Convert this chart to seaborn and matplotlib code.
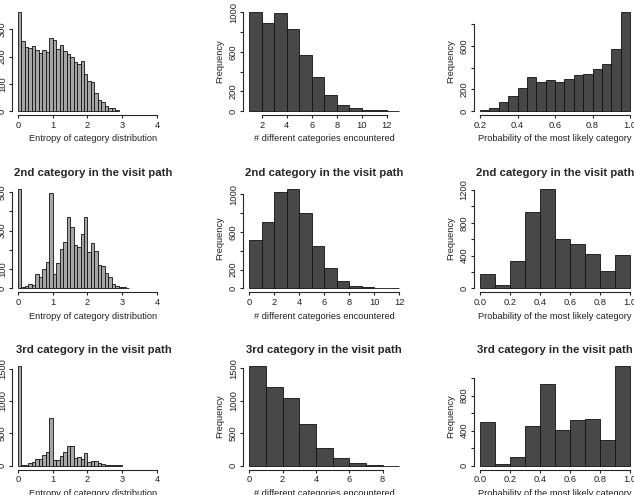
import numpy as np
import pandas as pd
import matplotlib
matplotlib.use("Agg")
import matplotlib.pyplot as plt
import seaborn as sns

# Bin counts, one list per panel (row = position in the visit path)
entropy_counts_1 = [365, 258, 236, 233, 240, 224, 212, 223, 217, 267, 260, 227, 242, 220, 209,
                    200, 181, 172, 182, 136, 110, 108, 66, 40, 33, 18, 12, 10, 4]
entropy_counts_2 = [517, 9, 10, 23, 19, 73, 61, 101, 135, 494, 73, 134, 203, 239, 371, 321,
                    224, 213, 283, 373, 187, 234, 194, 121, 118, 78, 57, 21, 14, 9, 5, 2]
entropy_counts_3 = [1536, 10, 15, 36, 51, 98, 98, 159, 216, 740, 92, 87, 154, 211, 298, 303,
                    113, 134, 103, 190, 62, 72, 67, 36, 26, 10, 10, 5, 5, 5]

ncat_counts_1 = [1007, 889, 993, 831, 568, 345, 162, 64, 34, 10, 7, 3]
ncat_counts_2 = [510, 705, 1025, 1055, 800, 445, 220, 75, 28, 18, 5, 3]
ncat_counts_3 = [1531, 1207, 1048, 647, 272, 118, 46, 10, 2]

maxprob_counts_1 = [9, 25, 80, 138, 212, 317, 268, 283, 268, 298, 329, 345, 391, 437, 569, 917]
maxprob_counts_2 = [171, 37, 338, 932, 1212, 602, 537, 415, 207, 403]
maxprob_counts_3 = [499, 15, 99, 450, 937, 408, 522, 537, 293, 1135]

# bin ranges: (first edge, last edge, number of bins)
entropy_bins = [(0.0, 2.9, 29), (0.0, 3.2, 32), (0.0, 3.0, 30)]
ncat_bins = [(1, 13, 12), (0, 12, 12), (0, 9, 9)]
maxprob_bins = [(0.2, 1.0, 16), (0.0, 1.0, 10), (0.0, 1.0, 10)]

row_titles = ["1st category in the visit path",
              "2nd category in the visit path",
              "3rd category in the visit path"]
x_labels = ["Entropy of category distribution",
            "# different categories encountered",
            "Probability of the most likely category"]

# axis ticks and labels (R leaves out labels that would collide)
entropy_xticks = [0, 1, 2, 3, 4]
ncat_xticks = [[2, 4, 6, 8, 10, 12], [0, 2, 4, 6, 8, 10, 12], [0, 2, 4, 6, 8]]
maxprob_xticks = [[0.2, 0.4, 0.6, 0.8, 1.0], [0.0, 0.2, 0.4, 0.6, 0.8, 1.0], [0.0, 0.2, 0.4, 0.6, 0.8, 1.0]]

yticks = [
    [[0, 100, 200, 300], [0, 200, 400, 600, 800, 1000], [0, 200, 400, 600, 800]],
    [[0, 100, 200, 300, 400, 500], [0, 200, 400, 600, 800, 1000], [0, 200, 400, 600, 800, 1000, 1200]],
    [[0, 500, 1000, 1500], [0, 500, 1000, 1500], [0, 200, 400, 600, 800, 1000]],
]
ytick_labels = [
    [["0", "100", "200", "300"], ["0", "200", "", "600", "", "1000"], ["0", "200", "", "600", ""]],
    [["0", "100", "", "300", "", "500"], ["0", "200", "", "600", "", "1000"],
     ["0", "", "400", "", "800", "", "1200"]],
    [["0", "500", "1000", "1500"], ["0", "500", "1000", "1500"], ["0", "", "400", "", "800", ""]],
]

entropy_counts = [entropy_counts_1, entropy_counts_2, entropy_counts_3]
ncat_counts = [ncat_counts_1, ncat_counts_2, ncat_counts_3]
maxprob_counts = [maxprob_counts_1, maxprob_counts_2, maxprob_counts_3]

sns.set_style("ticks")
plt.rcParams['font.family'] = ['Liberation Sans', 'DejaVu Sans']
plt.rcParams['axes.linewidth'] = 0.8

W, H = 634, 495
fig = plt.figure(figsize=(W / 100, H / 100), dpi=100)

# plot regions in pixels (the reference is a crop of a bigger 3x3 R figure)
col_left = [12.4, 243.2, 474.0]
row_top = [7.6, 184.9, 362.2]
box_w, box_h = 162, 107.5

light_gray = "#a6a6a6"
dark_gray = "#484848"


def draw_hist(ax, counts, bins, color, xticks, yt, ytl, xlabel, title, xlim=None):
    lo, hi, n = bins
    edges = [float(e) for e in np.linspace(lo, hi, n + 1)]
    mids = [(a + b) / 2 for a, b in zip(edges[:-1], edges[1:])]
    df = pd.DataFrame({"value": mids, "count": counts})
    sns.histplot(data=df, x="value", weights="count", bins=edges, ax=ax, color=color,
                 edgecolor="#111111", linewidth=0.6, alpha=1)
    if xlim is None:
        pad = 0.04 * (hi - lo)
        xlim = (lo - pad, hi + pad)
    top = max(counts)
    ax.set_xlim(*xlim)
    ax.set_ylim(-0.04 * top, 1.04 * top)
    ax.set_xticks(xticks)
    ax.set_xticklabels([f"{t:g}" if isinstance(t, int) else f"{t:.1f}" for t in xticks])
    ax.set_yticks(yt)
    ax.set_yticklabels(ytl)
    ax.tick_params(length=2.5, width=0.8, pad=1.4, labelsize=6.7, colors="#222222")
    plt.setp(ax.get_yticklabels(), rotation=90, va="center")
    sns.despine(ax=ax)
    ax.spines["left"].set_bounds(yt[0], yt[-1])
    ax.spines["bottom"].set_bounds(xticks[0], xticks[-1])
    ax.set_xlabel(xlabel, fontsize=6.7, labelpad=3.5, color="#222222")
    ax.set_ylabel("Frequency", fontsize=6.7, labelpad=3.3, color="#222222")
    ax.set_title(title, fontsize=8.2, fontweight="bold", pad=6.6)


for r in range(3):
    for c in range(3):
        rect = [col_left[c] / W, 1 - (row_top[r] + box_h) / H, box_w / W, box_h / H]
        ax = fig.add_axes(rect)
        if c == 0:
            draw_hist(ax, entropy_counts[r], entropy_bins[r], light_gray, entropy_xticks,
                      yticks[r][c], ytick_labels[r][c], x_labels[c], row_titles[r], xlim=(-0.16, 4.5))
        elif c == 1:
            draw_hist(ax, ncat_counts[r], ncat_bins[r], dark_gray, ncat_xticks[r],
                      yticks[r][c], ytick_labels[r][c], x_labels[c], row_titles[r])
        else:
            draw_hist(ax, maxprob_counts[r], maxprob_bins[r], dark_gray, maxprob_xticks[r],
                      yticks[r][c], ytick_labels[r][c], x_labels[c], row_titles[r])

fig.savefig("out.png", dpi=100)
